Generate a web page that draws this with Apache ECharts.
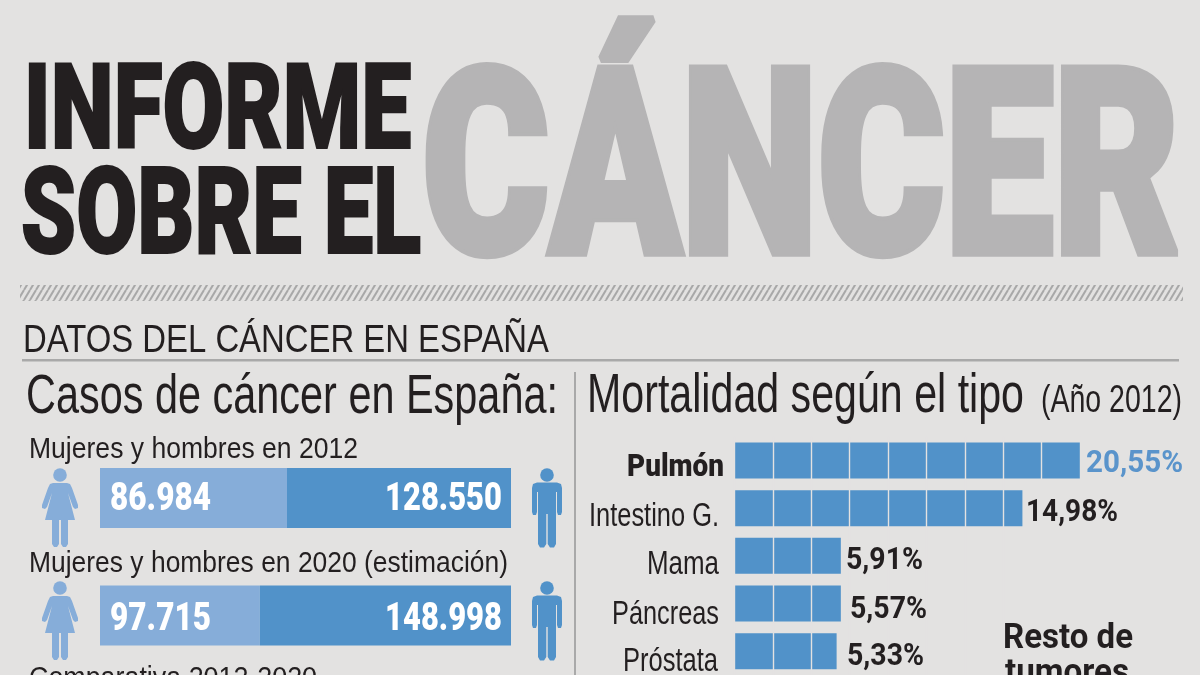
<!DOCTYPE html>
<html>
<head>
<meta charset="utf-8">
<script src="https://cdn.jsdelivr.net/npm/echarts@6/dist/echarts.min.js"></script>
<style>
html, body { margin: 0; padding: 0; background: #e3e2e1; }
#chart { width: 1200px; height: 675px; }
</style>
</head>
<body>
<div id="chart"></div>
<script>
// casos de cancer: numbers printed on the bars, and the share of the bar each colour takes
const caseYears = ['2012', '2020'];
const womenCases = ['86.984', '97.715'];
const menCases = ['128.550', '148.998'];
const womenShare = [45.5, 38.9];
const menShare = [54.5, 61.1];

// mortalidad: bar length is counted in blocks, as drawn in the picture
const tumourTypes = ['Pulmón', 'Intestino G.', 'Mama', 'Páncreas', 'Próstata'];
const tumourBlocks = [9, 7.5, 2.77, 2.77, 2.66];
const tumourLabels = ['20,55%', '14,98%', '5,91%', '5,57%', '5,33%'];

const BG = '#e3e2e1';
const INK = '#231f20';
const GREY = '#b5b4b5';
const RULE = '#a9a9a9';
const LIGHT = '#86add9';
const DARK = '#5192c9';
const PLAIN = '"Liberation Sans", sans-serif';
const HEAVY = 'Roboto, "Liberation Sans", sans-serif';

const measure = document.createElement('canvas').getContext('2d');

// text squeezed to fit between left and right, sitting on baseline
function fitText(text, left, right, baseline, size, opts) {
    opts = opts || {};
    const lw = opts.lw || 0;
    const font = opts.weight ? opts.weight + ' ' + size + 'px ' + HEAVY : size + 'px ' + PLAIN;
    measure.font = font;
    const w = measure.measureText(text).width;
    const sx = (right - left) / (w + lw);
    return {
        type: 'text',
        x: left + lw * sx / 2,
        y: baseline - (opts.weight ? 0.255 : 0.27) * size,
        scaleX: sx,
        z: 10,
        style: {
            text: text,
            font: font,
            fill: opts.color || INK,
            stroke: lw ? (opts.color || INK) : null,
            lineWidth: lw,
            lineJoin: 'miter',
            miterLimit: 3,
            align: 'left',
            verticalAlign: 'middle'
        }
    };
}

const womanShape = [[-7, 15], [7, 15], [10, 16], [12, 20], [18, 37], [18, 40], [15, 41], [13, 39], [8, 25], [15, 52], [8, 52], [8, 76], [6, 79], [3, 79], [1, 76], [1, 52], [-1, 52], [-1, 76], [-3, 79], [-6, 79], [-8, 76], [-8, 52], [-15, 52], [-8, 25], [-13, 39], [-15, 41], [-18, 40], [-18, 37], [-12, 20], [-10, 16]];
const manShape = [[-10, 14.5], [10, 14.5], [14, 16], [15, 20], [15, 44], [14, 47], [11, 47], [10, 44], [10, 24], [9, 24], [9, 76], [7, 79.5], [3, 79.5], [0.7, 76], [0.7, 46], [-0.7, 46], [-0.7, 76], [-3, 79.5], [-7, 79.5], [-9, 76], [-9, 24], [-10, 24], [-10, 44], [-11, 47], [-14, 47], [-15, 44], [-15, 20], [-14, 16]];

function person(shape, x, y, color) {
    return {
        type: 'group',
        x: x,
        y: y,
        children: [
            { type: 'circle', shape: { cx: 0, cy: 7, r: 6.8 }, style: { fill: color } },
            { type: 'polygon', shape: { points: shape }, style: { fill: color } }
        ]
    };
}

function hatchPattern() {
    const c = document.createElement('canvas');
    c.width = 6;
    c.height = 10;
    const ctx = c.getContext('2d');
    ctx.fillStyle = BG;
    ctx.fillRect(0, 0, 6, 10);
    ctx.strokeStyle = '#a8a8a8';
    ctx.lineWidth = 2;
    [[-6, 10, 0, 0], [0, 10, 6, 0], [6, 10, 12, 0]].forEach(function (l) {
        ctx.beginPath();
        ctx.moveTo(l[0], l[1]);
        ctx.lineTo(l[2], l[3]);
        ctx.stroke();
    });
    return c;
}

const chart = echarts.init(document.getElementById('chart'));

chart.setOption({
    backgroundColor: BG,
    animation: false,
    grid: [
        { left: 100, top: 439.25, width: 411, height: 235 },
        { left: 734.5, top: 436.7, width: 345.5, height: 243 }
    ],
    xAxis: [
        { gridIndex: 0, type: 'value', min: 0, max: 100, show: false },
        {
            // block gaps are the split lines, drawn over the bars in the page colour
            gridIndex: 1,
            type: 'value',
            min: 0,
            max: 9,
            interval: 1,
            z: 5,
            axisLine: { show: false },
            axisTick: { show: false },
            axisLabel: { show: false },
            splitLine: { show: true, lineStyle: { color: BG, width: 1.4 } }
        }
    ],
    yAxis: [
        { gridIndex: 0, type: 'category', inverse: true, data: caseYears, show: false },
        { gridIndex: 1, type: 'category', inverse: true, data: tumourTypes, show: false }
    ],
    series: [
        { type: 'bar', xAxisIndex: 0, yAxisIndex: 0, stack: 'casos', barWidth: 60, data: womenShare, itemStyle: { color: LIGHT } },
        { type: 'bar', xAxisIndex: 0, yAxisIndex: 0, stack: 'casos', barWidth: 60, data: menShare, itemStyle: { color: DARK } },
        { type: 'bar', xAxisIndex: 1, yAxisIndex: 1, barWidth: 36, data: tumourBlocks, itemStyle: { color: DARK } }
    ],
    graphic: [
        fitText('INFORME', 23, 412, 149, 118, { weight: 900, lw: 2 }),
        fitText('SOBRE EL', 20, 422, 254, 120, { weight: 900, lw: 2 }),
        fitText('CÁNCER', 419, 1183, 254, 259, { weight: 900, lw: 8, color: GREY }),
        { type: 'rect', shape: { x: 20, y: 285, width: 1163, height: 16 }, style: { fill: { image: hatchPattern(), repeat: 'repeat' } } },
        fitText('DATOS DEL CÁNCER EN ESPAÑA', 23, 549, 352, 39),
        { type: 'rect', shape: { x: 22, y: 359, width: 1157, height: 2.5 }, style: { fill: RULE } },
        fitText('Casos de cáncer en España:', 26, 558, 413, 55),
        { type: 'rect', shape: { x: 574, y: 372, width: 2, height: 303 }, style: { fill: RULE } },
        fitText('Mortalidad según el tipo', 587, 1024, 412, 55),
        fitText('(Año 2012)', 1041, 1182, 412, 39),
        fitText('Mujeres y hombres en 2012', 29, 358, 458, 29),
        fitText('Mujeres y hombres en 2020 (estimación)', 29, 508, 572, 29),
        fitText('Comparativa 2012-2020', 29, 317, 687, 29),
        // numbers on the stacked bars
        fitText(womenCases[0], 110, 211, 510, 38, { weight: 900, color: '#fff' }),
        fitText(menCases[0], 385, 502, 510, 38, { weight: 900, color: '#fff' }),
        fitText(womenCases[1], 110, 211, 630, 38, { weight: 900, color: '#fff' }),
        fitText(menCases[1], 385, 502, 630, 38, { weight: 900, color: '#fff' }),
        // tumour names, squeezed like the paper's condensed face
        fitText(tumourTypes[0], 627, 724, 476, 31, { weight: 900 }),
        fitText(tumourTypes[1], 589, 719, 526, 33),
        fitText(tumourTypes[2], 647, 719, 574, 33),
        fitText(tumourTypes[3], 612, 719, 624, 33),
        fitText(tumourTypes[4], 623, 718, 671, 33),
        // tumour percentages
        fitText(tumourLabels[0], 1086, 1183, 472, 31, { weight: 700, color: '#5a94cb' }),
        fitText(tumourLabels[1], 1026, 1118, 521, 31, { weight: 700 }),
        fitText(tumourLabels[2], 846, 923, 569, 31, { weight: 700 }),
        fitText(tumourLabels[3], 850, 927, 618, 31, { weight: 700 }),
        fitText(tumourLabels[4], 847, 924, 665, 31, { weight: 700 }),
        fitText('Resto de', 1003, 1133, 648, 35, { weight: 700 }),
        fitText('tumores', 1005, 1129, 683, 35, { weight: 700 }),
        person(womanShape, 60, 468, LIGHT),
        person(womanShape, 60, 581, LIGHT),
        person(manShape, 547, 468, DARK),
        person(manShape, 547, 581, DARK)
    ]
});
</script>
</body>
</html>
